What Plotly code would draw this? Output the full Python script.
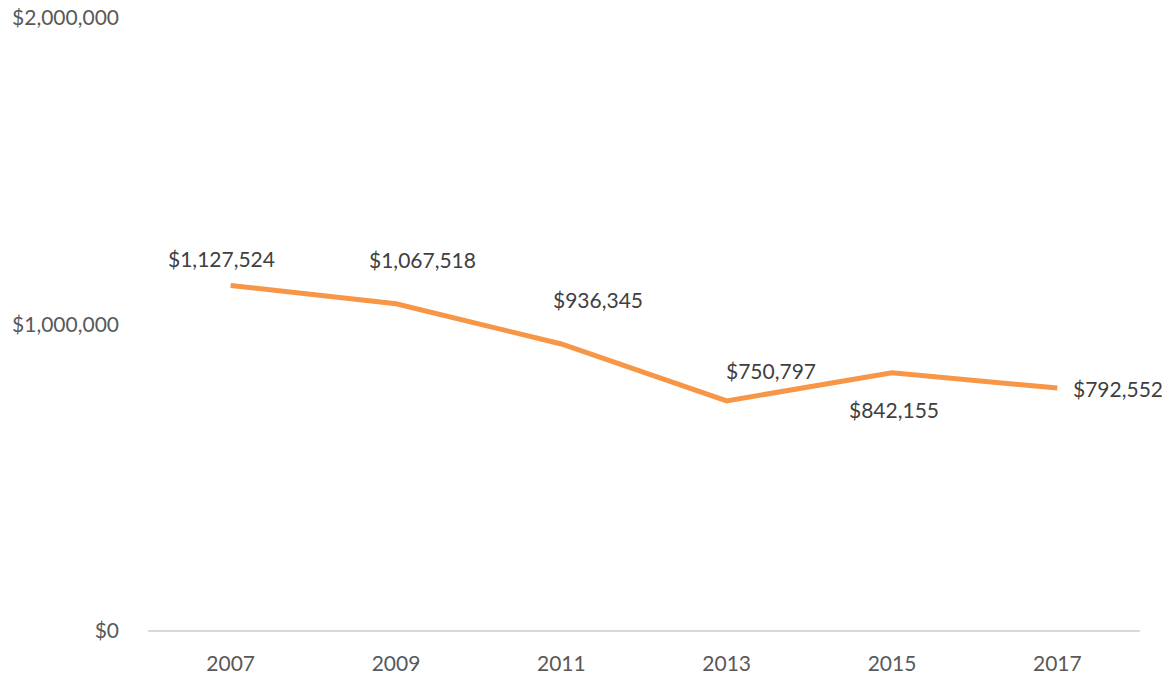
import plotly.graph_objects as go

# Data
years = ["2007", "2009", "2011", "2013", "2015", "2017"]
values = [1127524, 1067518, 936345, 750797, 842155, 792552]

# Label placement (Excel-style manual offsets)
label_xshift = [-9, 26, 37, 44, 2, 61]
label_yshift = [27, 44, 45, 30, -37, 0]

y_ticks = [0, 1000000, 2000000]
y_ticktext = ["$0", "$1,000,000", "$2,000,000"]

FONT = "Lato, Carlito, Calibri, sans-serif"
GREY = "#595959"

fig = go.Figure()
fig.add_trace(go.Scatter(
    x=years, y=values, mode="lines",
    line=dict(color="#F79646", width=5),
    hoverinfo="x+y", showlegend=False,
))

# annotations reference category index so numeric-looking labels are not cast to numbers
for i, (v, dx, dy) in enumerate(zip(values, label_xshift, label_yshift)):
    fig.add_annotation(
        x=i, y=v, text=f"${v:,}", showarrow=False,
        xshift=dx, yshift=dy,
        font=dict(family=FONT, size=21, color="#404040"),
    )

fig.update_xaxes(
    type="category", range=[-0.5, len(years) - 0.5],
    showgrid=False, zeroline=False, automargin=False,
    showline=False, ticks="", ticklabelstandoff=18,
    ticklabeloverflow="allow",
    tickfont=dict(family=FONT, size=21, color=GREY),
)
fig.update_yaxes(
    range=[0, 2000000], tickvals=y_ticks, ticktext=y_ticktext,
    showgrid=False, zeroline=True, zerolinecolor="#D9D9D9", zerolinewidth=1.5,
    showline=False, ticks="", ticklabelstandoff=28, automargin=False,
    ticklabeloverflow="allow",
    tickfont=dict(family=FONT, size=21, color=GREY),
)
# page body has an 8px margin, so the figure is sized to fit the window
fig.update_layout(
    width=1162, height=667,
    margin=dict(l=140, r=30, t=10, b=44),
    plot_bgcolor="white", paper_bgcolor="white",
)

fig.write_html("out.html")
